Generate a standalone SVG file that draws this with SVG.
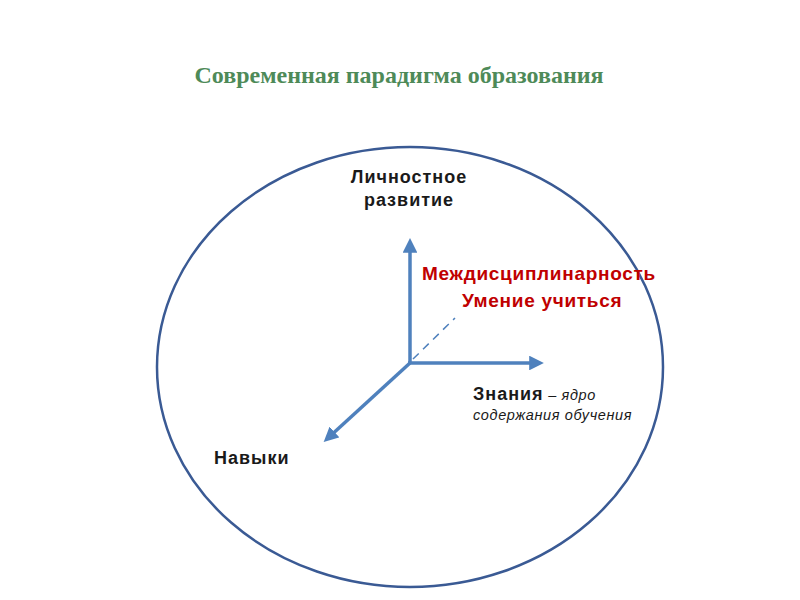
<svg xmlns="http://www.w3.org/2000/svg" width="800" height="600" viewBox="0 0 800 600">
<defs>
<marker id="ah" viewBox="0 0 10 10" refX="6" refY="5" markerWidth="4.2" markerHeight="4.2" orient="auto" markerUnits="strokeWidth">
<path d="M0,0 L10,5 L0,10 Z" fill="#4f81bd"/>
</marker>
<style>
.axis{stroke:#4f81bd;stroke-width:3.5;fill:none}
.lbl{font-family:"Liberation Sans",Arial,sans-serif;font-weight:bold;font-size:18px;letter-spacing:1px;fill:#1a1a1a}
.red{font-family:"Liberation Sans",Arial,sans-serif;font-weight:bold;font-size:19px;letter-spacing:0.7px;fill:#c00000}
.it{font-family:"Liberation Sans",Arial,sans-serif;font-style:italic;font-size:14.5px;letter-spacing:0.6px;fill:#1a1a1a}
</style>
</defs>
<rect width="800" height="600" fill="#ffffff"/>
<text x="399" y="83" text-anchor="middle" font-family="Liberation Serif,'Times New Roman',serif" font-weight="bold" font-size="24" fill="#4e8a58">Современная парадигма образования</text>
<g id="circle">
<ellipse cx="410" cy="367" rx="253" ry="220" fill="none" stroke="#3a5a94" stroke-width="2.5"/>
</g>
<g id="connectors">
<line class="axis" x1="410" y1="363" x2="410" y2="244" marker-end="url(#ah)"/>
<line class="axis" x1="408" y1="363" x2="538" y2="363" marker-end="url(#ah)"/>
<line class="axis" x1="410" y1="363" x2="328" y2="438" marker-end="url(#ah)"/>
<line x1="413" y1="359" x2="455" y2="318" stroke="#4f81bd" stroke-width="1.5" stroke-dasharray="8,6"/>
</g>
<g id="personal">
<text class="lbl" x="409" y="183" text-anchor="middle">Личностное</text>
<text class="lbl" x="409" y="206" text-anchor="middle">развитие</text>
</g>
<g id="inter">
<text class="red" x="422" y="280">Междисциплинарность</text>
<text class="red" x="462" y="307">Умение учиться</text>
</g>
<g id="knowledge">
<text x="473" y="400"><tspan class="lbl" font-size="19">Знания</tspan><tspan class="it"> – ядро</tspan></text>
<text class="it" x="473" y="420">содержания обучения</text>
</g>
<g id="skills">
<text class="lbl" x="214" y="464">Навыки</text>
</g>
</svg>
